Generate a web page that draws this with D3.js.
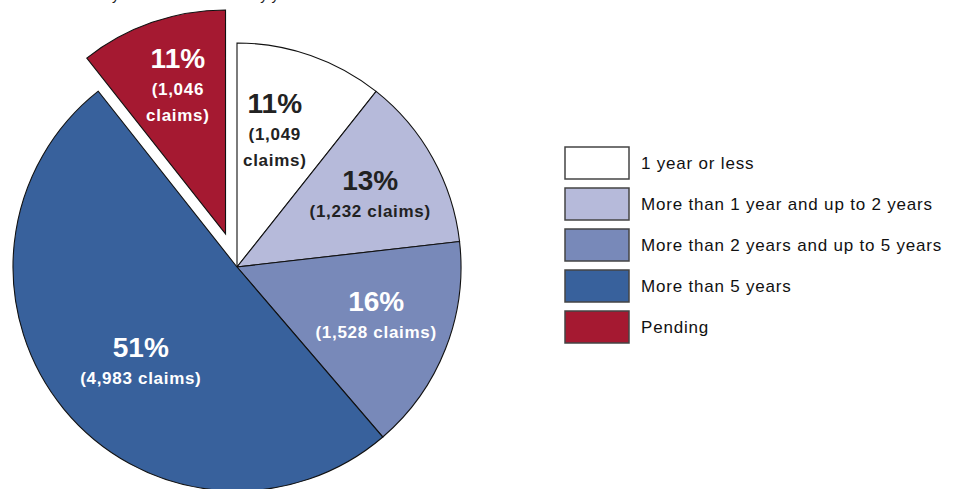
<!DOCTYPE html>
<html>
<head>
<meta charset="utf-8">
<script src="https://cdn.jsdelivr.net/npm/d3@7"></script>
<style>
  body { margin: 0; background: #fff; }
  svg { display: block; font-family: "Liberation Sans", Arial, sans-serif; }
</style>
</head>
<body>
<svg width="956" height="489"></svg>
<script>
// data
var categories = ["1 year or less", "More than 1 year and up to 2 years",
  "More than 2 years and up to 5 years", "More than 5 years", "Pending"];
var claims = [1049, 1232, 1528, 4983, 1046];
var percents = ["11%", "13%", "16%", "51%", "11%"];
var claimLines = [["(1,049", "claims)"], ["(1,232 claims)"], ["(1,528 claims)"],
  ["(4,983 claims)"], ["(1,046", "claims)"]];
var colors = ["#ffffff", "#b6bada", "#7889b9", "#38619c", "#a51931"];
var textColors = ["#222", "#222", "#fff", "#fff", "#fff"];

var svg = d3.select("svg");

// title line, mostly cut off at the top of the picture
svg.append("text")
  .attr("x", 25).attr("y", 0)
  .style("font-size", "14.5px").style("fill", "#222")
  .text("Claims filed by time until resolution by year");

var cx = 237, cy = 267, radius = 224;

var data = categories.map(function (c, i) {
  return {name: c, value: claims[i], pct: percents[i], sub: claimLines[i],
    color: colors[i], tc: textColors[i]};
});

var pie = d3.pie().sort(null).value(function (d) { return d.value; });
var arc = d3.arc().innerRadius(0).outerRadius(radius);
var arcs = pie(data);

var g = svg.append("g").attr("transform", "translate(" + cx + "," + cy + ")");

function offset(d) {
  if (d.data.name !== "Pending") return [0, 0];
  var a = (d.startAngle + d.endAngle) / 2;
  return [Math.sin(a) * 35, -Math.cos(a) * 35];
}

g.selectAll("path.slice").data(arcs).enter().append("path")
  .attr("class", "slice")
  .attr("transform", function (d) { var o = offset(d); return "translate(" + o[0] + "," + o[1] + ")"; })
  .attr("d", arc)
  .style("fill", function (d) { return d.data.color; })
  .style("stroke", "#111")
  .style("stroke-width", 1.1);

// label anchor (baseline of the percent) as distance from centre and angle
var labelPos = [
  {r: 159, a: 0.240},
  {r: 154, a: 1.045},
  {r: 146, a: 1.878},
  {r: 132, a: 3.958},
  {r: 173, a: 6.004}
];

var labels = g.selectAll("g.label").data(arcs).enter().append("g")
  .attr("class", "label")
  .attr("transform", function (d, i) {
    var o = offset(d), p = labelPos[i];
    var x = Math.sin(p.a) * p.r + o[0];
    var y = -Math.cos(p.a) * p.r + o[1];
    return "translate(" + x + "," + y + ")";
  });

labels.append("text")
  .attr("text-anchor", "middle")
  .style("font-size", "28px")
  .style("font-weight", "bold")
  .style("fill", function (d) { return d.data.tc; })
  .text(function (d) { return d.data.pct; });

labels.each(function (d) {
  var sel = d3.select(this);
  d.data.sub.forEach(function (t, k) {
    sel.append("text")
      .attr("text-anchor", "middle")
      .attr("y", 27 + k * 26)
      .style("font-size", "17px")
      .style("font-weight", "bold")
      .style("letter-spacing", "0.7px")
      .style("fill", d.data.tc)
      .text(t);
  });
});

// legend
var legend = svg.append("g").attr("transform", "translate(565,147)");
var item = legend.selectAll("g").data(data).enter().append("g")
  .attr("transform", function (d, i) { return "translate(0," + i * 41 + ")"; });
item.append("rect")
  .attr("width", 64).attr("height", 32)
  .style("fill", function (d) { return d.color; })
  .style("stroke", "#444").style("stroke-width", 1.5);
item.append("text")
  .attr("x", 76).attr("y", 22)
  .style("font-size", "17px").style("letter-spacing", "0.8px").style("fill", "#111")
  .text(function (d) { return d.name; });
</script>
</body>
</html>
